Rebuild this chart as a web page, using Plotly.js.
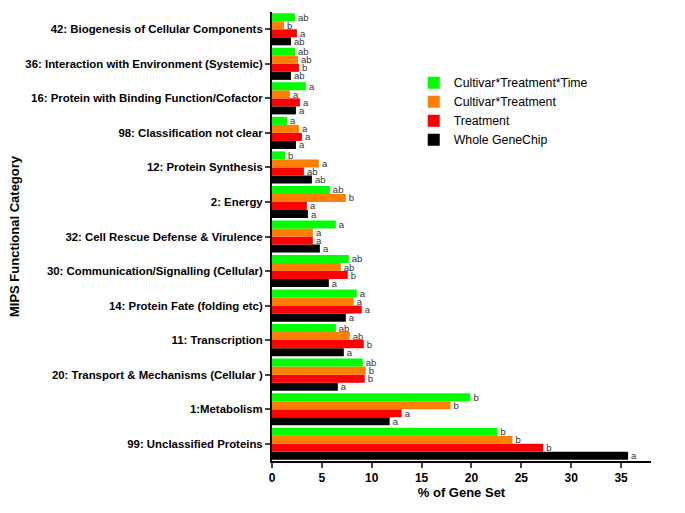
<!DOCTYPE html>
<html>
<head>
<meta charset="utf-8">
<script src="https://cdn.plot.ly/plotly-3.0.1.min.js"></script>
<style>
  body { margin: 0; background: #fff; }
  #chart { width: 685px; height: 513px; }
</style>
</head>
<body>
<div id="chart"></div>
<script>
// categories listed bottom to top
const categories = [
    '99: Unclassified Proteins',
    '1:Metabolism',
    '20: Transport & Mechanisms (Cellular )',
    '11: Transcription',
    '14: Protein Fate (folding etc)',
    '30: Communication/Signalling (Cellular)',
    '32: Cell Rescue Defense & Virulence',
    '2: Energy',
    '12: Protein Synthesis',
    '98: Classification not clear',
    '16: Protein with Binding Function/Cofactor',
    '36: Interaction with Environment (Systemic)',
    '42: Biogenesis of Cellular Components'
];

const wholeChip   = [35.7, 11.8, 6.6, 7.2, 7.4, 5.7, 4.8, 3.6, 4.0, 2.4, 2.4, 1.9, 1.9];
const treatment   = [27.2, 13.0, 9.3, 9.2, 9.0, 7.6, 4.1, 3.5, 3.2, 3.0, 2.8, 2.7, 2.5];
const cultTreat   = [24.1, 17.9, 9.4, 7.8, 8.2, 6.9, 4.1, 7.4, 4.7, 2.7, 1.8, 2.6, 1.2];
const cultTreatTm = [22.6, 19.9, 9.1, 6.4, 8.5, 7.7, 6.4, 5.8, 1.3, 1.5, 3.4, 2.3, 2.3];

const lblWhole  = ['a', 'a', 'a', 'a', 'a', 'a', 'a', 'a', 'ab', 'a', 'a', 'ab', 'ab'];
const lblTreat  = ['b', 'a', 'b', 'b', 'a', 'b', 'a', 'a', 'ab', 'a', 'a', 'b', 'a'];
const lblCT     = ['b', 'b', 'b', 'ab', 'a', 'ab', 'a', 'b', 'a', 'a', 'a', 'ab', 'b'];
const lblCTT    = ['b', 'b', 'ab', 'ab', 'a', 'ab', 'a', 'ab', 'b', 'a', 'a', 'ab', 'ab'];

function barTrace(name, values, labels, color) {
    return {
        type: 'bar',
        orientation: 'h',
        name: name,
        y: categories,
        x: values,
        text: labels,
        textposition: 'outside',
        constraintext: 'none',
        cliponaxis: false,
        textfont: { family: 'Liberation Sans, Arial, sans-serif', size: 9.5, color: '#333' },
        marker: { color: color, line: { width: 0 } },
        hoverinfo: 'x+name'
    };
}

const traces = [
    barTrace('Whole GeneChip', wholeChip, lblWhole, '#000000'),
    barTrace('Treatment', treatment, lblTreat, '#ff0000'),
    barTrace('Cultivar*Treatment', cultTreat, lblCT, '#ff8000'),
    barTrace('Cultivar*Treatment*Time', cultTreatTm, lblCTT, '#00ff00')
];

const layout = {
    width: 685,
    height: 513,
    margin: { l: 272, r: 34, t: 12, b: 52 },
    paper_bgcolor: '#fff',
    plot_bgcolor: '#fff',
    font: { family: 'Liberation Sans, Arial, sans-serif', color: '#000' },
    barmode: 'group',
    bargap: 0.07,
    bargroupgap: 0,
    showlegend: true,
    legend: {
        x: 0.374, y: 0.875, xanchor: 'left', yanchor: 'top',
        traceorder: 'reversed',
        font: { size: 12.3, color: '#000' },
        bgcolor: 'rgba(0,0,0,0)',
        tracegroupgap: 0
    },
    xaxis: {
        range: [0, 38],
        tickvals: [0, 5, 10, 15, 20, 25, 30, 35],
        ticks: 'outside',
        ticklen: 5,
        tickwidth: 2,
        showline: true,
        linewidth: 2,
        linecolor: '#000',
        showgrid: false,
        zeroline: false,
        tickfont: { size: 12, weight: 'bold' },
        title: { text: '% of Gene Set', font: { size: 13, weight: 'bold' }, standoff: 3 }
    },
    yaxis: {
        type: 'category',
        categoryorder: 'array',
        categoryarray: categories,
        range: [-0.5, 12.5],
        ticks: 'outside',
        ticklen: 5,
        tickwidth: 2,
        showline: true,
        linewidth: 2,
        linecolor: '#000',
        showgrid: false,
        zeroline: false,
        tickfont: { size: 11.4, weight: 'bold' },
        title: { text: 'MIPS Functional Category', font: { size: 13, weight: 'bold' }, standoff: 3 }
    }
};

Plotly.newPlot('chart', traces, layout, { displayModeBar: false, staticPlot: true });
</script>
</body>
</html>
